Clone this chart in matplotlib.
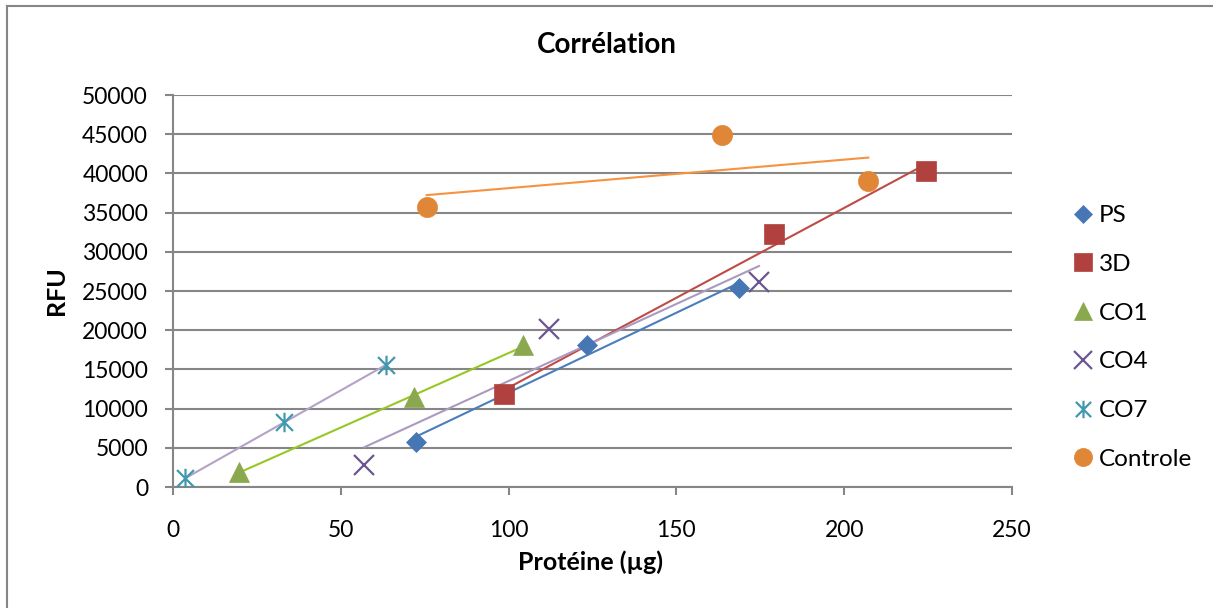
import numpy as np
import matplotlib
matplotlib.use("Agg")
import matplotlib.pyplot as plt
from matplotlib.path import Path
from matplotlib.lines import Line2D

plt.rcParams['font.family'] = ['Lato', 'DejaVu Sans']

# ---- data ----
ps_x = [72.3, 123.3, 168.7]
ps_y = [5780, 18110, 25340]
d3_x = [98.7, 179.2, 224.4]
d3_y = [11860, 32270, 40270]
co1_x = [19.7, 71.9, 104.4]
co1_y = [1950, 11440, 18110]
co4_x = [57.0, 112.0, 174.6]
co4_y = [2800, 20150, 26190]
co7_x = [3.6, 33.1, 63.4]
co7_y = [1100, 8250, 15560]
ctl_x = [75.6, 163.6, 207.2]
ctl_y = [35750, 44900, 39030]

labels = ['PS', '3D', 'CO1', 'CO4', 'CO7', 'Controle']
xticks = [0, 50, 100, 150, 200, 250]
yticks = [0, 5000, 10000, 15000, 20000, 25000, 30000, 35000, 40000, 45000, 50000]

# asterisk marker (X + vertical bar) like Excel's star
star = Path([(-1, -1), (1, 1), (-1, 1), (1, -1), (0, -1.15), (0, 1.15)],
            [Path.MOVETO, Path.LINETO, Path.MOVETO, Path.LINETO, Path.MOVETO, Path.LINETO])

series = [
    (ps_x, ps_y, dict(marker='D', ms=10.2, mfc='#4677b4', mec='#4677b4', mew=0.5), '#4a7ebb'),
    (d3_x, d3_y, dict(marker='s', ms=14.5, mfc='#b0413e', mec='#b0413e', mew=0.5), '#be4b48'),
    (co1_x, co1_y, dict(marker='^', ms=14.5, mfc='#8aa84e', mec='#8aa84e', mew=0.5), '#98c723'),
    (co4_x, co4_y, dict(marker='x', ms=14.0, mfc='none', mec='#6b5690', mew=1.6), '#ab9ac0'),
    (co7_x, co7_y, dict(marker=star, ms=14.0, mfc='none', mec='#4198af', mew=1.6), '#b3a2c7'),
    (ctl_x, ctl_y, dict(marker='o', ms=14.5, mfc='#e08637', mec='#e08637', mew=0.5), '#f69240'),
]

fig = plt.figure(figsize=(12.13, 6.08), dpi=100)
ax = fig.add_axes([173/1213, 1-487/608, (1012-173)/1213, (487-95)/608])

grid_c = '#868686'
handles = []
for (xs, ys, mk, tc), lab in zip(series, labels):
    xs = np.asarray(xs, float)
    ys = np.asarray(ys, float)
    k, b = np.polyfit(xs, ys, 1)
    xt = np.array([xs.min(), xs.max()])
    ax.plot(xt, k*xt + b, color=tc, lw=1.5, zorder=2)
    h, = ax.plot(xs, ys, linestyle='none', zorder=3, label=lab, **mk)
    handles.append(h)

ax.set_xlim(0, 250)
ax.set_ylim(0, 50000)
ax.set_xticks(xticks)
ax.set_yticks(yticks)
ax.set_yticklabels([str(v) for v in yticks])
ax.grid(axis='y', color=grid_c, lw=1.5, zorder=0)
ax.set_axisbelow(True)
for s in ['top', 'right']:
    ax.spines[s].set_visible(False)
for s in ['left', 'bottom']:
    ax.spines[s].set_color(grid_c)
    ax.spines[s].set_linewidth(1.5)
ax.tick_params(axis='both', colors=grid_c, labelcolor='black', labelsize=16.5,
               length=6, width=1.5, direction='out')
ax.tick_params(axis='y', pad=12)
ax.tick_params(axis='x', pad=18)

fig.text(0.5, 1-45/608, 'Corrélation', ha='center', va='center',
         fontsize=20, fontweight='bold')
fig.text(591/1213, 1-562/608, 'Protéine (µg)', ha='center', va='center',
         fontsize=18, fontweight='bold')
fig.text(57/1213, 1-291/608, 'RFU', ha='center', va='center', rotation=90,
         fontsize=18, fontweight='bold')

fig.legend(handles=handles, labels=labels, loc='center left',
           bbox_to_anchor=(1072/1213, 1-337.5/608), frameon=False,
           fontsize=17.5, borderaxespad=0, borderpad=0, handlelength=0.9,
           handletextpad=0.2, labelspacing=1.14, markerscale=0.9)

# outer chart frame (top and left edges visible)
fig.add_artist(Line2D([6.5/1213, 1], [1-5.5/608, 1-5.5/608], transform=fig.transFigure,
                      color=grid_c, lw=1.5))
fig.add_artist(Line2D([6.5/1213, 6.5/1213], [0, 1-5.5/608], transform=fig.transFigure,
                      color=grid_c, lw=1.5))

fig.savefig('out.png', dpi=100)
